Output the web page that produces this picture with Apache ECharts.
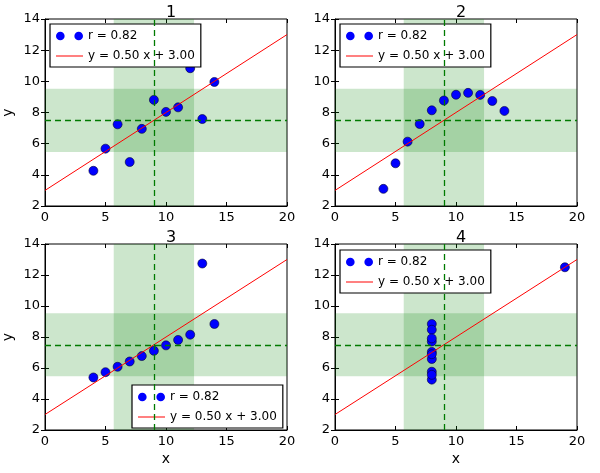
<!DOCTYPE html>
<html><head><meta charset="utf-8">
<script src="https://cdn.jsdelivr.net/npm/echarts@6/dist/echarts.min.js"></script>
<style>html,body{margin:0;padding:0;background:#fff}#c{width:600px;height:473px}</style>
</head><body><div id="c"></div>
<script>
var panelTitles = ['1', '2', '3', '4'];
var x123 = [10, 8, 13, 9, 11, 14, 6, 4, 12, 7, 5];
var y1 = [8.04, 6.95, 7.58, 8.81, 8.33, 9.96, 7.24, 4.26, 10.84, 4.82, 5.68];
var y2 = [9.14, 8.14, 8.74, 8.77, 9.26, 8.10, 6.13, 3.10, 9.13, 7.26, 4.74];
var y3 = [7.46, 6.77, 12.74, 7.11, 7.81, 8.84, 6.08, 5.39, 8.15, 6.42, 5.73];
var x4 = [8, 8, 8, 8, 8, 8, 8, 19, 8, 8, 8];
var y4 = [6.58, 5.76, 7.71, 8.84, 8.47, 7.04, 5.25, 12.50, 5.56, 7.91, 6.89];
var fitX = [0, 20];
var fitY = [3, 13];
var meanX = 9, meanY = 7.5;
var bandX = [5.68, 12.32];
var bandY = [5.47, 9.53];
var legendNames = ['r = 0.82', 'y = 0.50 x + 3.00'];
var xTicks = {min: 0, max: 20, interval: 5};
var yTicks = {min: 2, max: 14, interval: 2};

var xs = [x123, x123, x123, x4];
var ys = [y1, y2, y3, y4];
var grids = [
  {left: 45, top: 19, width: 242, height: 187},
  {left: 335, top: 19, width: 242, height: 187},
  {left: 45, top: 244, width: 242, height: 186},
  {left: 335, top: 244, width: 242, height: 186}
];
var legendPos = [
  {left: 50, top: 24},
  {left: 340, top: 24},
  {left: 132, top: 385},
  {left: 340, top: 250}
];
var font = 'DejaVu Sans';
var dotsIcon = 'path://M0,4a4,4 0 1,0 8,0a4,4 0 1,0 -8,0zM17,4a4,4 0 1,0 8,0a4,4 0 1,0 -8,0z';
var lineIcon = 'path://M0,0L27,0L27,1L0,1z';

var option = {
  animation: false,
  title: [], grid: [], xAxis: [], yAxis: [], legend: [], series: []
};
for (var i = 0; i < 4; i++) {
  var g = grids[i];
  option.grid.push({left: g.left, top: g.top, width: g.width, height: g.height,
    show: true, borderColor: '#000', borderWidth: 1, backgroundColor: 'transparent'});
  option.title.push({text: panelTitles[i], left: g.left + g.width / 2, top: g.top - 19,
    textAlign: 'center', textStyle: {fontFamily: font, fontSize: 16, fontWeight: 'normal', color: '#000'}});
  var bottom = i >= 2, leftP = (i % 2 === 0);
  option.xAxis.push({type: 'value', gridIndex: i, min: xTicks.min, max: xTicks.max, interval: xTicks.interval,
    position: 'bottom', splitLine: {show: false},
    axisLine: {show: true, lineStyle: {color: '#000'}},
    axisTick: {inside: true, length: 4, lineStyle: {color: '#000'}},
    axisLabel: {fontFamily: font, fontSize: 13, color: '#000', margin: 5, showMaxLabel: true, showMinLabel: true},
    name: bottom ? 'x' : '', nameLocation: 'middle', nameGap: 22,
    nameTextStyle: {fontFamily: font, fontSize: 14, color: '#000'}});
  option.xAxis.push({type: 'value', gridIndex: i, min: xTicks.min, max: xTicks.max, interval: xTicks.interval,
    position: 'top', splitLine: {show: false}, axisLine: {show: false},
    axisTick: {inside: true, length: 4, lineStyle: {color: '#000'}}, axisLabel: {show: false}});
  option.yAxis.push({type: 'value', gridIndex: i, min: yTicks.min, max: yTicks.max, interval: yTicks.interval,
    position: 'left', splitLine: {show: false},
    axisLine: {show: true, lineStyle: {color: '#000'}},
    axisTick: {inside: true, length: 4, lineStyle: {color: '#000'}},
    axisLabel: {fontFamily: font, fontSize: 13, color: '#000', margin: 5},
    name: leftP ? 'y' : '', nameLocation: 'middle', nameGap: 30,
    nameTextStyle: {fontFamily: font, fontSize: 14, color: '#000'}});
  option.yAxis.push({type: 'value', gridIndex: i, min: yTicks.min, max: yTicks.max, interval: yTicks.interval,
    position: 'right', splitLine: {show: false}, axisLine: {show: false},
    axisTick: {inside: true, length: 4, lineStyle: {color: '#000'}}, axisLabel: {show: false}});
  var xi = i * 2, yi = i * 2;
  option.series.push({type: 'line', name: '_band' + i, xAxisIndex: xi, yAxisIndex: yi, data: [], z: 1,
    markArea: {silent: true, itemStyle: {color: 'rgba(0,128,0,0.2)'}, label: {show: false},
      data: [[{xAxis: bandX[0]}, {xAxis: bandX[1]}], [{yAxis: bandY[0]}, {yAxis: bandY[1]}]]},
    markLine: {silent: true, symbol: 'none', label: {show: false},
      lineStyle: {color: '#007a00', type: [6, 4], width: 1.3},
      data: [{xAxis: meanX}, {yAxis: meanY}]}});
  var pts = [];
  for (var k = 0; k < xs[i].length; k++) pts.push([xs[i][k], ys[i][k]]);
  option.series.push({type: 'scatter', name: legendNames[0], xAxisIndex: xi, yAxisIndex: yi, z: 3,
    data: pts, symbolSize: 9,
    itemStyle: {color: '#0000ff', borderColor: '#000033', borderWidth: 0.6, opacity: 1}});
  var lp = [];
  for (var k = 0; k < fitX.length; k++) lp.push([fitX[k], fitY[k]]);
  option.series.push({type: 'line', name: legendNames[1], xAxisIndex: xi, yAxisIndex: yi, z: 4,
    data: lp, showSymbol: false, symbol: 'none', lineStyle: {color: '#ff0000', width: 1}, itemStyle: {color: '#ff0000'}});
  option.legend.push({left: legendPos[i].left, top: legendPos[i].top, orient: 'vertical',
    backgroundColor: '#fff', borderColor: '#000', borderWidth: 1.2, borderRadius: 0,
    padding: [6, 6, 5, 6], itemGap: 8, itemWidth: 27, itemHeight: 10, selectedMode: false,
    textStyle: {fontFamily: font, fontSize: 12, color: '#000'},
    data: [
      {name: legendNames[0], icon: dotsIcon, itemStyle: {color: '#0000ff', borderWidth: 0}},
      {name: legendNames[1], icon: lineIcon, itemStyle: {color: '#ff0000', borderWidth: 0}}
    ]});
}
var chart = echarts.init(document.getElementById('c'), null, {renderer: 'canvas'});
chart.setOption(option);
</script>
</body></html>
